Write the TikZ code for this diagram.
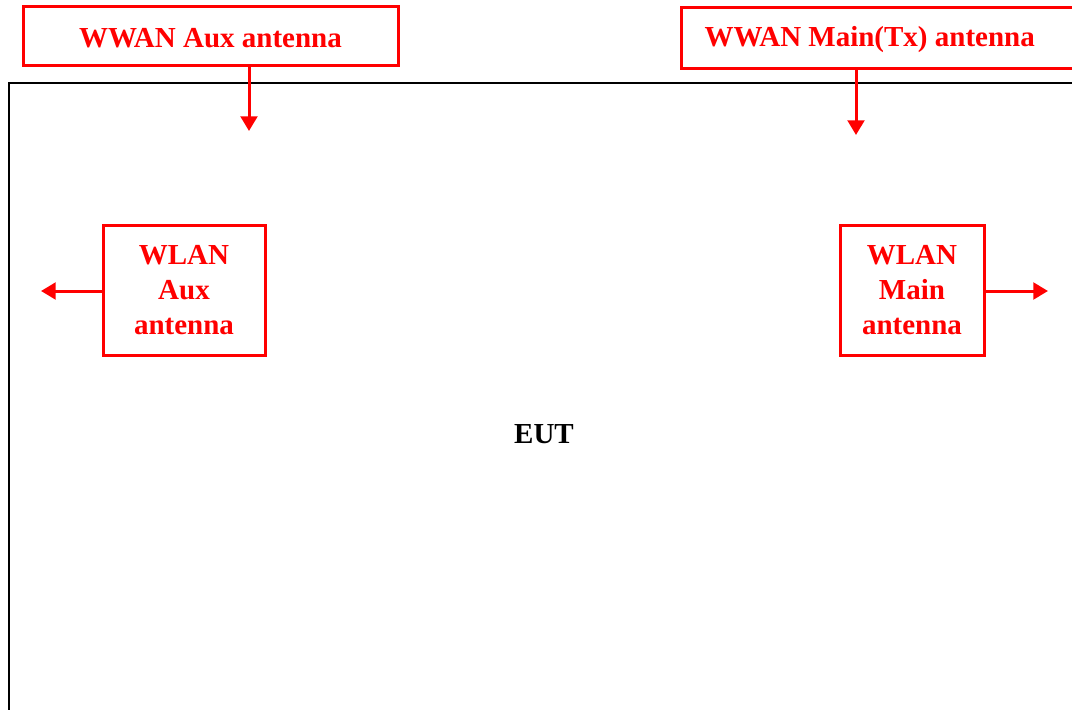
\documentclass[tikz,border=0pt]{standalone}
\usepackage{fontspec}
\setmainfont{Liberation Serif}
\usetikzlibrary{arrows.meta}

\begin{document}
\begin{tikzpicture}[x=0.75pt, y=-0.75pt,
  antbox/.style={draw=red, line width=2.25pt, text=red, font=\fontsize{21.75}{26.25}\selectfont\bfseries, align=center, inner sep=0pt},
  feed/.style={red, line width=2.25pt, -{Triangle[length=11pt, width=12.5pt]}},
  eut/.style={black, line width=1.5pt}]

%picture size, the EUT box runs past the right and bottom edges
\useasboundingbox (0,0) rectangle (1072,710);
\clip (0,0) rectangle (1072,710);

\coordinate (tipaux) at (249,131);
\coordinate (tipmain) at (856,135);
\coordinate (tipwaux) at (41,291);
\coordinate (tipwmain) at (1048,291);

%device under test
\draw[eut] (9,1100) -- (9,83) -- (1100,83);
\node[font=\fontsize{21.75}{26.25}\selectfont\bfseries] (euttext) at (544,434) {EUT};

%WWAN antennas
\node[antbox, minimum width=281.25pt, minimum height=44.25pt, text height=17pt] (wwanaux) at (210.5,36.5) {WWAN Aux antenna};
\node[antbox, anchor=west, minimum height=45.75pt, text width=273pt, inner xsep=17.25pt, align=flush left, text height=17pt] (wwanmain) at (680,38) {WWAN Main(Tx) antenna};

\draw[feed] (wwanaux.south -| tipaux) -- (tipaux);
\draw[feed] (wwanmain.south -| tipmain) -- (tipmain);

%WLAN antennas
\node[antbox, minimum width=121.5pt, minimum height=97.5pt] (wlanaux) at (184,290) {WLAN\\Aux\\antenna};
\node[antbox, minimum width=108pt, minimum height=97.5pt] (wlanmain) at (912,290) {WLAN\\Main\\antenna};

\draw[feed] (wlanaux.west |- tipwaux) -- (tipwaux);
\draw[feed] (wlanmain.east |- tipwmain) -- (tipwmain);

\end{tikzpicture}
\end{document}
